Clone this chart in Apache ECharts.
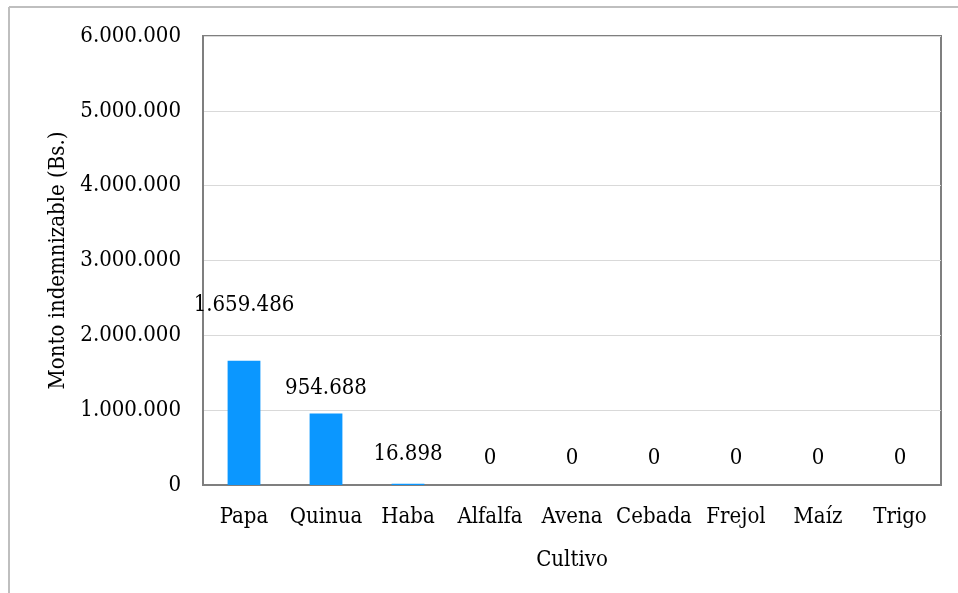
<!DOCTYPE html>
<html><head><meta charset="utf-8">
<script src="https://cdn.jsdelivr.net/npm/echarts@6/dist/echarts.min.js"></script>
<style>html,body{margin:0;padding:0;background:#fff}#c{width:958px;height:593px}</style>
</head><body><div id="c"></div>
<script>
const categories = ['Papa','Quinua','Haba','Alfalfa','Avena','Cebada','Frejol','Maíz','Trigo'];
const values = [1659486, 954688, 16898, 0, 0, 0, 0, 0, 0];
const yTicks = [0, 1000000, 2000000, 3000000, 4000000, 5000000, 6000000];
const labelDistances = [45, 14, 18, 16, 16, 16, 16, 16, 16];

const fmt = v => String(Math.round(v)).replace(/\B(?=(\d{3})+(?!\d))/g, '.');
const FONT = '"DejaVu Serif Condensed", "DejaVu Serif", serif';
const FS = 22;
const chart = echarts.init(document.getElementById('c'), null, {renderer:'canvas'});
chart.setOption({
  animation:false,
  backgroundColor:'#fff',
  textStyle:{fontFamily:FONT},
  graphic:[
    {type:'line', shape:{x1:9,y1:7,x2:958,y2:7}, style:{stroke:'#BFBFBF', lineWidth:2}},
    {type:'line', shape:{x1:9,y1:7,x2:9,y2:593}, style:{stroke:'#BFBFBF', lineWidth:2}}
  ],
  grid:{left:203,right:17,top:36,bottom:108,show:true,borderColor:'#7F7F7F',borderWidth:2,backgroundColor:'transparent'},
  xAxis:{
    type:'category', data:categories,
    name:'Cultivo', nameLocation:'middle', nameGap:64,
    nameTextStyle:{fontFamily:FONT,fontSize:FS,color:'#000'},
    axisLine:{lineStyle:{color:'#7F7F7F',width:2}},
    axisTick:{show:false},
    axisLabel:{fontFamily:FONT,fontSize:FS,color:'#000',margin:21,interval:0}
  },
  yAxis:{
    type:'value', min:yTicks[0], max:yTicks[yTicks.length-1], interval:1000000,
    name:'Monto indemnizable (Bs.)', nameLocation:'middle', nameGap:127,
    nameTextStyle:{fontFamily:FONT,fontSize:FS,color:'#000'},
    axisLine:{show:true,lineStyle:{color:'#7F7F7F',width:2}},
    axisTick:{show:false},
    splitLine:{lineStyle:{color:'#D9D9D9',width:1}},
    axisLabel:{fontFamily:FONT,fontSize:FS,color:'#000',margin:22,formatter:v=>fmt(v)}
  },
  series:[{
    type:'bar', barWidth:'40%',
    itemStyle:{color:'#0B97FF'},
    data: values.map((v,i)=>({value:v, label:{distance:labelDistances[i]}})),
    label:{show:true, position:'top', fontFamily:FONT, fontSize:FS, color:'#000', formatter:p=>fmt(p.value)}
  }]
});
</script></body></html>
